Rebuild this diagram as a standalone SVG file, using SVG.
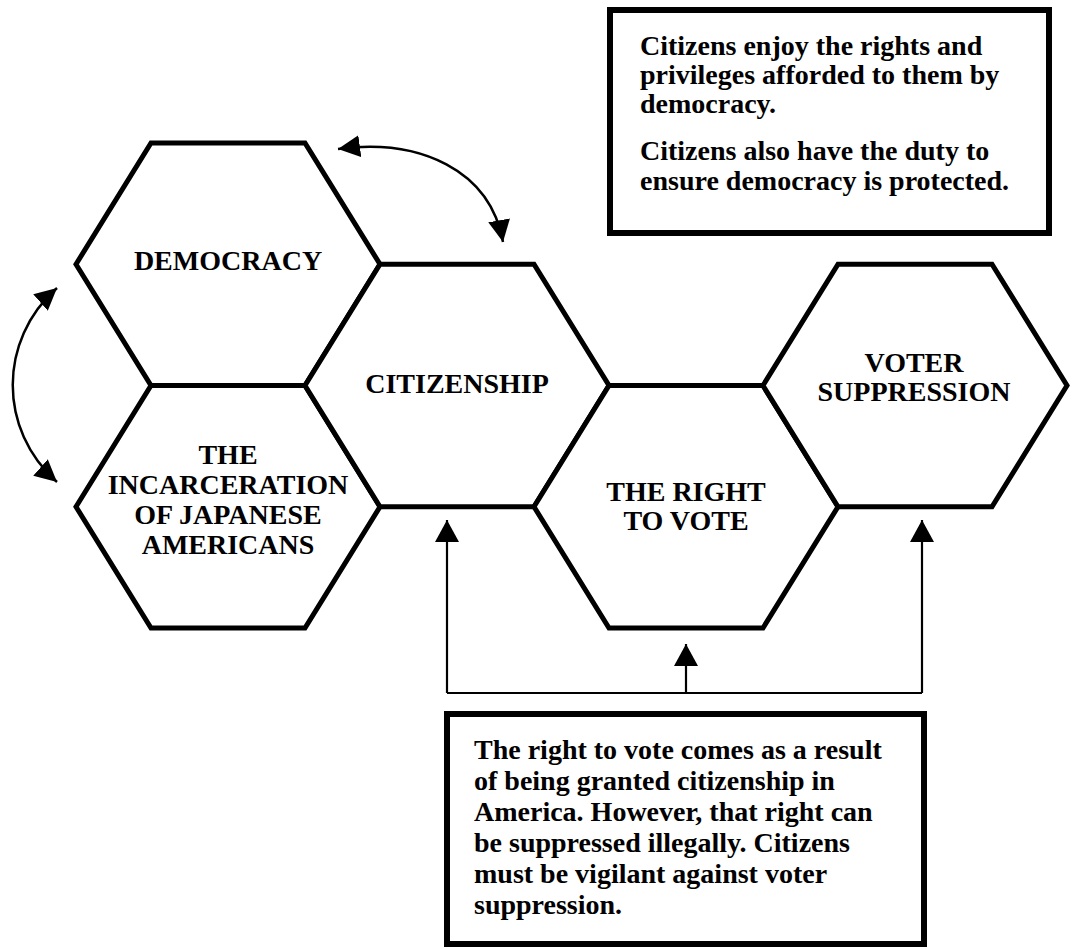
<svg xmlns="http://www.w3.org/2000/svg" width="1076" height="949" viewBox="0 0 1076 949">
<style>
.hex{fill:#fff;stroke:#000;stroke-width:5;stroke-linejoin:miter}
.box{fill:#fff;stroke:#000;stroke-width:6}
.lbl{font-family:"Liberation Serif","Times New Roman",serif;font-weight:bold;font-size:28px;fill:#000;text-anchor:middle}
.txt{font-family:"Liberation Serif","Times New Roman",serif;font-weight:bold;font-size:28px;fill:#000}
.con{fill:none;stroke:#000;stroke-width:2.2}
.arc{fill:none;stroke:#000;stroke-width:2.5}
</style>
<defs>
<marker id="ah" viewBox="0 0 22 24" refX="22" refY="12" markerWidth="22" markerHeight="24" markerUnits="userSpaceOnUse" orient="auto-start-reverse">
<path d="M0,0 L22,12 L0,24 Z" fill="#000"/>
</marker>
<marker id="ah2" viewBox="0 0 22 22" refX="22" refY="11" markerWidth="22" markerHeight="22" markerUnits="userSpaceOnUse" orient="auto-start-reverse">
<path d="M0,0 L22,11 L0,22 Z" fill="#000"/>
</marker>
</defs>
<rect width="1076" height="949" fill="#fff"/>
<g id="node-democracy">
<polygon class="hex" points="76,264.25 151,143 305,143 380,264.25 305,385.5 151,385.5"/>
<text class="lbl" x="228" y="270">DEMOCRACY</text>
</g>
<g id="node-incarceration">
<polygon class="hex" points="76,506.75 151,385.5 305,385.5 380,506.75 305,628 151,628"/>
<text class="lbl" x="228" y="464">THE</text>
<text class="lbl" x="228" y="494">INCARCERATION</text>
<text class="lbl" x="228" y="524">OF JAPANESE</text>
<text class="lbl" x="228" y="554">AMERICANS</text>
</g>
<g id="node-citizenship">
<polygon class="hex" points="305,385.5 380,264.25 534,264.25 609,385.5 534,506.75 380,506.75"/>
<text class="lbl" x="457" y="393">CITIZENSHIP</text>
</g>
<g id="node-right-to-vote">
<polygon class="hex" points="534,506.75 609,385.5 763,385.5 838,506.75 763,628 609,628"/>
<text class="lbl" x="686" y="501">THE RIGHT</text>
<text class="lbl" x="686" y="530">TO VOTE</text>
</g>
<g id="node-voter-suppression">
<polygon class="hex" points="763,385.5 838,264.25 992,264.25 1067,385.5 992,506.75 838,506.75"/>
<text class="lbl" x="914" y="372">VOTER</text>
<text class="lbl" x="914" y="401">SUPPRESSION</text>
</g>
<g id="note-citizens">
<rect class="box" x="610" y="10" width="439" height="223"/>
<text class="txt" x="640" y="55">Citizens enjoy the rights and</text>
<text class="txt" x="640" y="84">privileges afforded to them by</text>
<text class="txt" x="640" y="113">democracy.</text>
<text class="txt" x="640" y="160">Citizens also have the duty to</text>
<text class="txt" x="640" y="190">ensure democracy is protected.</text>
</g>
<g id="note-right-to-vote">
<rect class="box" x="447" y="714" width="477" height="230"/>
<text class="txt" x="474" y="759">The right to vote comes as a result</text>
<text class="txt" x="474" y="790">of being granted citizenship in</text>
<text class="txt" x="474" y="821">America. However, that right can</text>
<text class="txt" x="474" y="852">be suppressed illegally. Citizens</text>
<text class="txt" x="474" y="883">must be vigilant against voter</text>
<text class="txt" x="474" y="914">suppression.</text>
</g>
<g id="connectors">
<path class="con" d="M447,693 H922"/>
<path class="con" d="M447,693 V520" marker-end="url(#ah)"/>
<path class="con" d="M922,693 V520" marker-end="url(#ah)"/>
<path class="con" d="M686,693 V644" marker-end="url(#ah)"/>
<path class="arc" d="M338,149 C420,138 490,170 503,242" marker-start="url(#ah2)" marker-end="url(#ah2)"/>
<path class="arc" d="M57,288 C-2,340 -2,430 57,482" marker-start="url(#ah2)" marker-end="url(#ah2)"/>
</g>
</svg>
